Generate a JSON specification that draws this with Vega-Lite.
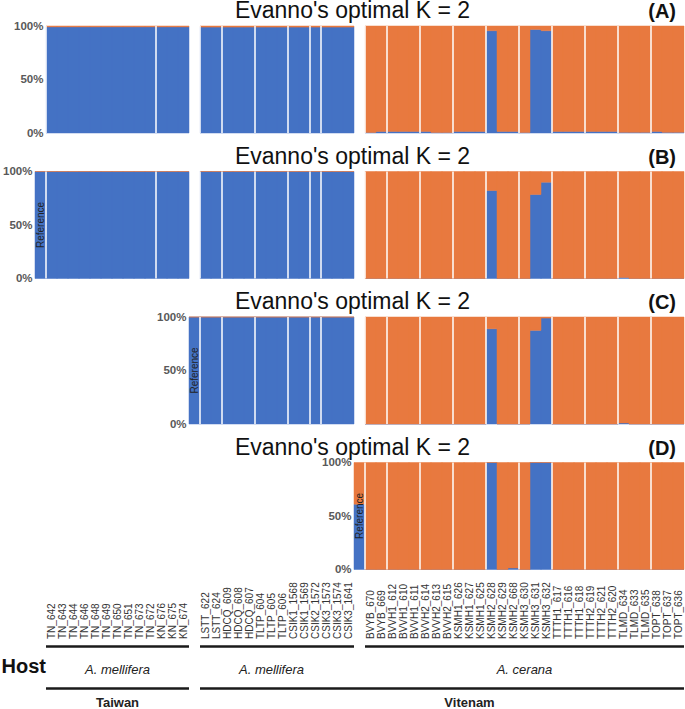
{
  "$schema": "https://vega.github.io/schema/vega-lite/v6.json",
  "padding": {"left": 1, "top": 0, "right": 0, "bottom": 0},
  "config": {"font": "Liberation Sans", "view": {"stroke": null}},
  "spacing": 5.5,
  "resolve": {"scale": {"x": "independent", "y": "independent"}, "axis": {"x": "independent", "y": "independent"}},
  "datasets": {
    "A": [
      {"sample": "TN_642", "pop": "TN", "blue": 0.992}, {"sample": "TN_643", "pop": "TN", "blue": 0.992}, {"sample": "TN_644", "pop": "TN", "blue": 0.992}, {"sample": "TN_646", "pop": "TN", "blue": 0.992}, {"sample": "TN_648", "pop": "TN", "blue": 0.992}, {"sample": "TN_649", "pop": "TN", "blue": 0.992}, {"sample": "TN_650", "pop": "TN", "blue": 0.992}, {"sample": "TN_651", "pop": "TN", "blue": 0.992}, {"sample": "TN_673", "pop": "TN", "blue": 0.992}, {"sample": "TN_672", "pop": "TN", "blue": 0.992},
      {"sample": "KN_676", "pop": "KN", "blue": 0.992}, {"sample": "KN_675", "pop": "KN", "blue": 0.992}, {"sample": "KN_674", "pop": "KN", "blue": 0.992},
      {"sample": "LSTT_622", "pop": "LSTT", "blue": 0.99}, {"sample": "LSTT_624", "pop": "LSTT", "blue": 0.99},
      {"sample": "HDCQ_609", "pop": "HDCQ", "blue": 0.99}, {"sample": "HDCQ_608", "pop": "HDCQ", "blue": 0.99}, {"sample": "HDCQ_607", "pop": "HDCQ", "blue": 0.99},
      {"sample": "TLTP_604", "pop": "TLTP", "blue": 0.99}, {"sample": "TLTP_605", "pop": "TLTP", "blue": 0.99}, {"sample": "TLTP_606", "pop": "TLTP", "blue": 0.99},
      {"sample": "CSIK1_1568", "pop": "CSIK1", "blue": 0.99}, {"sample": "CSIK1_1569", "pop": "CSIK1", "blue": 0.99},
      {"sample": "CSIK2_1572", "pop": "CSIK2", "blue": 0.99},
      {"sample": "CSIK3_1573", "pop": "CSIK3", "blue": 0.99}, {"sample": "CSIK3_1574", "pop": "CSIK3", "blue": 0.99}, {"sample": "CSIK3_1641", "pop": "CSIK3", "blue": 0.99},
      {"sample": "BVYB_670", "pop": "BVYB", "blue": 0.005}, {"sample": "BVYB_669", "pop": "BVYB", "blue": 0.015},
      {"sample": "BVVH1_612", "pop": "BVVH1", "blue": 0.015}, {"sample": "BVVH1_610", "pop": "BVVH1", "blue": 0.015}, {"sample": "BVVH1_611", "pop": "BVVH1", "blue": 0.015},
      {"sample": "BVVH2_614", "pop": "BVVH2", "blue": 0.015}, {"sample": "BVVH2_613", "pop": "BVVH2", "blue": 0.004}, {"sample": "BVVH2_615", "pop": "BVVH2", "blue": 0.004},
      {"sample": "KSMH1_626", "pop": "KSMH1", "blue": 0.015}, {"sample": "KSMH1_627", "pop": "KSMH1", "blue": 0.015}, {"sample": "KSMH1_625", "pop": "KSMH1", "blue": 0.015},
      {"sample": "KSMH2_628", "pop": "KSMH2", "blue": 0.956}, {"sample": "KSMH2_629", "pop": "KSMH2", "blue": 0.015}, {"sample": "KSMH2_668", "pop": "KSMH2", "blue": 0.015},
      {"sample": "KSMH3_630", "pop": "KSMH3", "blue": 0.004}, {"sample": "KSMH3_631", "pop": "KSMH3", "blue": 0.968}, {"sample": "KSMH3_632", "pop": "KSMH3", "blue": 0.956},
      {"sample": "TTTH1_617", "pop": "TTTH1", "blue": 0.015}, {"sample": "TTTH1_616", "pop": "TTTH1", "blue": 0.015}, {"sample": "TTTH1_618", "pop": "TTTH1", "blue": 0.015},
      {"sample": "TTTH2_619", "pop": "TTTH2", "blue": 0.015}, {"sample": "TTTH2_621", "pop": "TTTH2", "blue": 0.015}, {"sample": "TTTH2_620", "pop": "TTTH2", "blue": 0.015},
      {"sample": "TLMD_634", "pop": "TLMD", "blue": 0.006}, {"sample": "TLMD_633", "pop": "TLMD", "blue": 0.006}, {"sample": "TLMD_635", "pop": "TLMD", "blue": 0.006},
      {"sample": "TOPT_638", "pop": "TOPT", "blue": 0.015}, {"sample": "TOPT_637", "pop": "TOPT", "blue": 0.006}, {"sample": "TOPT_636", "pop": "TOPT", "blue": 0.006}
    ],
    "B": [
      {"sample": "Reference (B)", "pop": "Reference", "blue": 1},
      {"sample": "TN_642", "pop": "TN", "blue": 1}, {"sample": "TN_643", "pop": "TN", "blue": 1}, {"sample": "TN_644", "pop": "TN", "blue": 1}, {"sample": "TN_646", "pop": "TN", "blue": 1}, {"sample": "TN_648", "pop": "TN", "blue": 1}, {"sample": "TN_649", "pop": "TN", "blue": 1}, {"sample": "TN_650", "pop": "TN", "blue": 1}, {"sample": "TN_651", "pop": "TN", "blue": 1}, {"sample": "TN_673", "pop": "TN", "blue": 1}, {"sample": "TN_672", "pop": "TN", "blue": 1},
      {"sample": "KN_676", "pop": "KN", "blue": 1}, {"sample": "KN_675", "pop": "KN", "blue": 1}, {"sample": "KN_674", "pop": "KN", "blue": 1},
      {"sample": "LSTT_622", "pop": "LSTT", "blue": 1}, {"sample": "LSTT_624", "pop": "LSTT", "blue": 1},
      {"sample": "HDCQ_609", "pop": "HDCQ", "blue": 1}, {"sample": "HDCQ_608", "pop": "HDCQ", "blue": 1}, {"sample": "HDCQ_607", "pop": "HDCQ", "blue": 1},
      {"sample": "TLTP_604", "pop": "TLTP", "blue": 1}, {"sample": "TLTP_605", "pop": "TLTP", "blue": 1}, {"sample": "TLTP_606", "pop": "TLTP", "blue": 1},
      {"sample": "CSIK1_1568", "pop": "CSIK1", "blue": 1}, {"sample": "CSIK1_1569", "pop": "CSIK1", "blue": 1},
      {"sample": "CSIK2_1572", "pop": "CSIK2", "blue": 1},
      {"sample": "CSIK3_1573", "pop": "CSIK3", "blue": 1}, {"sample": "CSIK3_1574", "pop": "CSIK3", "blue": 1}, {"sample": "CSIK3_1641", "pop": "CSIK3", "blue": 1},
      {"sample": "BVYB_670", "pop": "BVYB", "blue": 0}, {"sample": "BVYB_669", "pop": "BVYB", "blue": 0},
      {"sample": "BVVH1_612", "pop": "BVVH1", "blue": 0}, {"sample": "BVVH1_610", "pop": "BVVH1", "blue": 0}, {"sample": "BVVH1_611", "pop": "BVVH1", "blue": 0},
      {"sample": "BVVH2_614", "pop": "BVVH2", "blue": 0}, {"sample": "BVVH2_613", "pop": "BVVH2", "blue": 0}, {"sample": "BVVH2_615", "pop": "BVVH2", "blue": 0},
      {"sample": "KSMH1_626", "pop": "KSMH1", "blue": 0}, {"sample": "KSMH1_627", "pop": "KSMH1", "blue": 0}, {"sample": "KSMH1_625", "pop": "KSMH1", "blue": 0},
      {"sample": "KSMH2_628", "pop": "KSMH2", "blue": 0.822}, {"sample": "KSMH2_629", "pop": "KSMH2", "blue": 0}, {"sample": "KSMH2_668", "pop": "KSMH2", "blue": 0},
      {"sample": "KSMH3_630", "pop": "KSMH3", "blue": 0}, {"sample": "KSMH3_631", "pop": "KSMH3", "blue": 0.785}, {"sample": "KSMH3_632", "pop": "KSMH3", "blue": 0.9},
      {"sample": "TTTH1_617", "pop": "TTTH1", "blue": 0}, {"sample": "TTTH1_616", "pop": "TTTH1", "blue": 0}, {"sample": "TTTH1_618", "pop": "TTTH1", "blue": 0},
      {"sample": "TTTH2_619", "pop": "TTTH2", "blue": 0}, {"sample": "TTTH2_621", "pop": "TTTH2", "blue": 0}, {"sample": "TTTH2_620", "pop": "TTTH2", "blue": 0},
      {"sample": "TLMD_634", "pop": "TLMD", "blue": 0.01}, {"sample": "TLMD_633", "pop": "TLMD", "blue": 0}, {"sample": "TLMD_635", "pop": "TLMD", "blue": 0},
      {"sample": "TOPT_638", "pop": "TOPT", "blue": 0}, {"sample": "TOPT_637", "pop": "TOPT", "blue": 0}, {"sample": "TOPT_636", "pop": "TOPT", "blue": 0}
    ],
    "C": [
      {"sample": "Reference (C)", "pop": "Reference", "blue": 1},
      {"sample": "LSTT_622", "pop": "LSTT", "blue": 1}, {"sample": "LSTT_624", "pop": "LSTT", "blue": 1},
      {"sample": "HDCQ_609", "pop": "HDCQ", "blue": 1}, {"sample": "HDCQ_608", "pop": "HDCQ", "blue": 1}, {"sample": "HDCQ_607", "pop": "HDCQ", "blue": 1},
      {"sample": "TLTP_604", "pop": "TLTP", "blue": 1}, {"sample": "TLTP_605", "pop": "TLTP", "blue": 1}, {"sample": "TLTP_606", "pop": "TLTP", "blue": 1},
      {"sample": "CSIK1_1568", "pop": "CSIK1", "blue": 1}, {"sample": "CSIK1_1569", "pop": "CSIK1", "blue": 1},
      {"sample": "CSIK2_1572", "pop": "CSIK2", "blue": 1},
      {"sample": "CSIK3_1573", "pop": "CSIK3", "blue": 1}, {"sample": "CSIK3_1574", "pop": "CSIK3", "blue": 1}, {"sample": "CSIK3_1641", "pop": "CSIK3", "blue": 1},
      {"sample": "BVYB_670", "pop": "BVYB", "blue": 0}, {"sample": "BVYB_669", "pop": "BVYB", "blue": 0},
      {"sample": "BVVH1_612", "pop": "BVVH1", "blue": 0}, {"sample": "BVVH1_610", "pop": "BVVH1", "blue": 0}, {"sample": "BVVH1_611", "pop": "BVVH1", "blue": 0},
      {"sample": "BVVH2_614", "pop": "BVVH2", "blue": 0}, {"sample": "BVVH2_613", "pop": "BVVH2", "blue": 0}, {"sample": "BVVH2_615", "pop": "BVVH2", "blue": 0},
      {"sample": "KSMH1_626", "pop": "KSMH1", "blue": 0}, {"sample": "KSMH1_627", "pop": "KSMH1", "blue": 0}, {"sample": "KSMH1_625", "pop": "KSMH1", "blue": 0},
      {"sample": "KSMH2_628", "pop": "KSMH2", "blue": 0.89}, {"sample": "KSMH2_629", "pop": "KSMH2", "blue": 0}, {"sample": "KSMH2_668", "pop": "KSMH2", "blue": 0},
      {"sample": "KSMH3_630", "pop": "KSMH3", "blue": 0}, {"sample": "KSMH3_631", "pop": "KSMH3", "blue": 0.875}, {"sample": "KSMH3_632", "pop": "KSMH3", "blue": 0.99},
      {"sample": "TTTH1_617", "pop": "TTTH1", "blue": 0}, {"sample": "TTTH1_616", "pop": "TTTH1", "blue": 0}, {"sample": "TTTH1_618", "pop": "TTTH1", "blue": 0},
      {"sample": "TTTH2_619", "pop": "TTTH2", "blue": 0}, {"sample": "TTTH2_621", "pop": "TTTH2", "blue": 0}, {"sample": "TTTH2_620", "pop": "TTTH2", "blue": 0},
      {"sample": "TLMD_634", "pop": "TLMD", "blue": 0.01}, {"sample": "TLMD_633", "pop": "TLMD", "blue": 0}, {"sample": "TLMD_635", "pop": "TLMD", "blue": 0},
      {"sample": "TOPT_638", "pop": "TOPT", "blue": 0}, {"sample": "TOPT_637", "pop": "TOPT", "blue": 0}, {"sample": "TOPT_636", "pop": "TOPT", "blue": 0}
    ],
    "D": [
      {"sample": "Reference (D)", "pop": "Reference", "blue": 0.61},
      {"sample": "BVYB_670", "pop": "BVYB", "blue": 0}, {"sample": "BVYB_669", "pop": "BVYB", "blue": 0},
      {"sample": "BVVH1_612", "pop": "BVVH1", "blue": 0}, {"sample": "BVVH1_610", "pop": "BVVH1", "blue": 0}, {"sample": "BVVH1_611", "pop": "BVVH1", "blue": 0},
      {"sample": "BVVH2_614", "pop": "BVVH2", "blue": 0}, {"sample": "BVVH2_613", "pop": "BVVH2", "blue": 0}, {"sample": "BVVH2_615", "pop": "BVVH2", "blue": 0},
      {"sample": "KSMH1_626", "pop": "KSMH1", "blue": 0}, {"sample": "KSMH1_627", "pop": "KSMH1", "blue": 0}, {"sample": "KSMH1_625", "pop": "KSMH1", "blue": 0},
      {"sample": "KSMH2_628", "pop": "KSMH2", "blue": 1}, {"sample": "KSMH2_629", "pop": "KSMH2", "blue": 0}, {"sample": "KSMH2_668", "pop": "KSMH2", "blue": 0.015},
      {"sample": "KSMH3_630", "pop": "KSMH3", "blue": 0}, {"sample": "KSMH3_631", "pop": "KSMH3", "blue": 1}, {"sample": "KSMH3_632", "pop": "KSMH3", "blue": 1},
      {"sample": "TTTH1_617", "pop": "TTTH1", "blue": 0}, {"sample": "TTTH1_616", "pop": "TTTH1", "blue": 0}, {"sample": "TTTH1_618", "pop": "TTTH1", "blue": 0},
      {"sample": "TTTH2_619", "pop": "TTTH2", "blue": 0}, {"sample": "TTTH2_621", "pop": "TTTH2", "blue": 0}, {"sample": "TTTH2_620", "pop": "TTTH2", "blue": 0},
      {"sample": "TLMD_634", "pop": "TLMD", "blue": 0}, {"sample": "TLMD_633", "pop": "TLMD", "blue": 0}, {"sample": "TLMD_635", "pop": "TLMD", "blue": 0},
      {"sample": "TOPT_638", "pop": "TOPT", "blue": 0}, {"sample": "TOPT_637", "pop": "TOPT", "blue": 0}, {"sample": "TOPT_636", "pop": "TOPT", "blue": 0}
    ],
    "lines": [
      {"tier": 1, "start": "TN_642", "end": "KN_674"},
      {"tier": 1, "start": "LSTT_622", "end": "CSIK3_1641"},
      {"tier": 1, "start": "BVYB_670", "end": "TOPT_636"},
      {"tier": 2, "start": "TN_642", "end": "KN_674"},
      {"tier": 2, "start": "LSTT_622", "end": "TOPT_636"}
    ],
    "hosts": [
      {"tier": 1, "at": "TN_650", "text": "A. mellifera"},
      {"tier": 1, "at": "TLTP_605", "text": "A. mellifera"},
      {"tier": 1, "at": "KSMH3_630", "text": "A. cerana"}
    ],
    "countries": [
      {"tier": 2, "at": "TN_650", "text": "Taiwan"},
      {"tier": 2, "at": "KSMH1_627", "text": "Vitenam"}
    ]
  },
  "vconcat": [
    {
      "spacing": 6.5,
      "resolve": {"scale": {"x": "independent", "y": "independent"}, "axis": {"x": "independent", "y": "independent"}},
      "vconcat": [
        {
          "width": 649, "height": 107,
          "title": {"text": "Evanno's optimal K = 2", "fontSize": 23, "fontWeight": "normal", "color": "#111", "anchor": "middle", "dx": -7, "dy": 24, "offset": 3},
          "data": {"name": "A"},
          "layer": [
            {"mark": {"type": "bar", "color": "#4472C4", "stroke": "#4472C4", "strokeWidth": 0.5},
             "encoding": {"x": {"field": "sample", "type": "nominal", "axis": null, "scale": {"type": "band", "paddingInner": 0, "paddingOuter": 0, "domain": ["Reference (B)","TN_642","TN_643","TN_644","TN_646","TN_648","TN_649","TN_650","TN_651","TN_673","TN_672","KN_676","KN_675","KN_674","Reference (C)","LSTT_622","LSTT_624","HDCQ_609","HDCQ_608","HDCQ_607","TLTP_604","TLTP_605","TLTP_606","CSIK1_1568","CSIK1_1569","CSIK2_1572","CSIK3_1573","CSIK3_1574","CSIK3_1641","Reference (D)","BVYB_670","BVYB_669","BVVH1_612","BVVH1_610","BVVH1_611","BVVH2_614","BVVH2_613","BVVH2_615","KSMH1_626","KSMH1_627","KSMH1_625","KSMH2_628","KSMH2_629","KSMH2_668","KSMH3_630","KSMH3_631","KSMH3_632","TTTH1_617","TTTH1_616","TTTH1_618","TTTH2_619","TTTH2_621","TTTH2_620","TLMD_634","TLMD_633","TLMD_635","TOPT_638","TOPT_637","TOPT_636"]}},
               "y": {"field": "blue", "type": "quantitative", "scale": {"domain": [0, 1], "nice": false}, "axis": {"values": [0, 0.5, 1], "format": ".0%", "labelFontSize": 11.5, "labelFontWeight": "bold", "labelColor": "#595959", "ticks": false, "domain": false, "grid": false, "title": null, "labelPadding": 3, "offset": -11}},
               "y2": {"datum": 0}}},
            {"mark": {"type": "bar", "color": "#E8793F", "stroke": "#E8793F", "strokeWidth": 0.5},
             "encoding": {"x": {"field": "sample", "type": "nominal"}, "y": {"field": "blue", "type": "quantitative"}, "y2": {"datum": 1}}},
            {"transform": [{"filter": "datum.pop !== 'Reference'"}, {"window": [{"op": "row_number", "as": "k"}], "groupby": ["pop"]}, {"filter": "datum.k === 1"}],
             "mark": {"type": "rule", "color": "white", "strokeWidth": 1.5},
             "encoding": {"x": {"field": "sample", "type": "nominal", "bandPosition": 0}, "y": {"datum": 0}, "y2": {"datum": 1}}},
            {"data": {"values": [{"sample": "TOPT_636", "label": "(A)"}]},
             "mark": {"type": "text", "align": "right", "baseline": "alphabetic", "fontSize": 20, "fontWeight": "bold", "color": "#111", "dx": -8, "dy": -8},
             "encoding": {"x": {"field": "sample", "type": "nominal", "bandPosition": 1}, "y": {"datum": 1}, "text": {"field": "label"}}}
          ]
        },
        {
          "width": 649, "height": 107,
          "title": {"text": "Evanno's optimal K = 2", "fontSize": 23, "fontWeight": "normal", "color": "#111", "anchor": "middle", "dx": -7, "dy": 24, "offset": 3},
          "data": {"name": "B"},
          "layer": [
            {"mark": {"type": "bar", "color": "#4472C4", "stroke": "#4472C4", "strokeWidth": 0.5},
             "encoding": {"x": {"field": "sample", "type": "nominal", "axis": null, "scale": {"type": "band", "paddingInner": 0, "paddingOuter": 0, "domain": ["Reference (B)","TN_642","TN_643","TN_644","TN_646","TN_648","TN_649","TN_650","TN_651","TN_673","TN_672","KN_676","KN_675","KN_674","Reference (C)","LSTT_622","LSTT_624","HDCQ_609","HDCQ_608","HDCQ_607","TLTP_604","TLTP_605","TLTP_606","CSIK1_1568","CSIK1_1569","CSIK2_1572","CSIK3_1573","CSIK3_1574","CSIK3_1641","Reference (D)","BVYB_670","BVYB_669","BVVH1_612","BVVH1_610","BVVH1_611","BVVH2_614","BVVH2_613","BVVH2_615","KSMH1_626","KSMH1_627","KSMH1_625","KSMH2_628","KSMH2_629","KSMH2_668","KSMH3_630","KSMH3_631","KSMH3_632","TTTH1_617","TTTH1_616","TTTH1_618","TTTH2_619","TTTH2_621","TTTH2_620","TLMD_634","TLMD_633","TLMD_635","TOPT_638","TOPT_637","TOPT_636"]}},
               "y": {"field": "blue", "type": "quantitative", "scale": {"domain": [0, 1], "nice": false}, "axis": {"values": [0, 0.5, 1], "format": ".0%", "labelFontSize": 11.5, "labelFontWeight": "bold", "labelColor": "#595959", "ticks": false, "domain": false, "grid": false, "title": null, "labelPadding": 3, "offset": 0}},
               "y2": {"datum": 0}}},
            {"mark": {"type": "bar", "color": "#E8793F", "stroke": "#E8793F", "strokeWidth": 0.5},
             "encoding": {"x": {"field": "sample", "type": "nominal"}, "y": {"field": "blue", "type": "quantitative"}, "y2": {"datum": 1}}},
            {"transform": [{"filter": "datum.pop !== 'Reference'"}, {"window": [{"op": "row_number", "as": "k"}], "groupby": ["pop"]}, {"filter": "datum.k === 1"}],
             "mark": {"type": "rule", "color": "white", "strokeWidth": 1.5},
             "encoding": {"x": {"field": "sample", "type": "nominal", "bandPosition": 0}, "y": {"datum": 0}, "y2": {"datum": 1}}},
            {"transform": [{"filter": "datum.pop === 'Reference'"}],
             "mark": {"type": "text", "angle": 270, "fontSize": 10, "color": "#222", "align": "center", "baseline": "middle"},
             "encoding": {"x": {"field": "sample", "type": "nominal"}, "y": {"datum": 0.5}, "text": {"field": "pop"}}},
            {"data": {"values": [{"sample": "TOPT_636", "label": "(B)"}]},
             "mark": {"type": "text", "align": "right", "baseline": "alphabetic", "fontSize": 20, "fontWeight": "bold", "color": "#111", "dx": -8, "dy": -8},
             "encoding": {"x": {"field": "sample", "type": "nominal", "bandPosition": 1}, "y": {"datum": 1}, "text": {"field": "label"}}}
          ]
        },
        {
          "width": 649, "height": 107,
          "title": {"text": "Evanno's optimal K = 2", "fontSize": 23, "fontWeight": "normal", "color": "#111", "anchor": "middle", "dx": -7, "dy": 24, "offset": 3},
          "data": {"name": "C"},
          "layer": [
            {"mark": {"type": "bar", "color": "#4472C4", "stroke": "#4472C4", "strokeWidth": 0.5},
             "encoding": {"x": {"field": "sample", "type": "nominal", "axis": null, "scale": {"type": "band", "paddingInner": 0, "paddingOuter": 0, "domain": ["Reference (B)","TN_642","TN_643","TN_644","TN_646","TN_648","TN_649","TN_650","TN_651","TN_673","TN_672","KN_676","KN_675","KN_674","Reference (C)","LSTT_622","LSTT_624","HDCQ_609","HDCQ_608","HDCQ_607","TLTP_604","TLTP_605","TLTP_606","CSIK1_1568","CSIK1_1569","CSIK2_1572","CSIK3_1573","CSIK3_1574","CSIK3_1641","Reference (D)","BVYB_670","BVYB_669","BVVH1_612","BVVH1_610","BVVH1_611","BVVH2_614","BVVH2_613","BVVH2_615","KSMH1_626","KSMH1_627","KSMH1_625","KSMH2_628","KSMH2_629","KSMH2_668","KSMH3_630","KSMH3_631","KSMH3_632","TTTH1_617","TTTH1_616","TTTH1_618","TTTH2_619","TTTH2_621","TTTH2_620","TLMD_634","TLMD_633","TLMD_635","TOPT_638","TOPT_637","TOPT_636"]}},
               "y": {"field": "blue", "type": "quantitative", "scale": {"domain": [0, 1], "nice": false}, "axis": {"values": [0, 0.5, 1], "format": ".0%", "labelFontSize": 11.5, "labelFontWeight": "bold", "labelColor": "#595959", "ticks": false, "domain": false, "grid": false, "title": null, "labelPadding": 3, "offset": -154}},
               "y2": {"datum": 0}}},
            {"mark": {"type": "bar", "color": "#E8793F", "stroke": "#E8793F", "strokeWidth": 0.5},
             "encoding": {"x": {"field": "sample", "type": "nominal"}, "y": {"field": "blue", "type": "quantitative"}, "y2": {"datum": 1}}},
            {"transform": [{"filter": "datum.pop !== 'Reference'"}, {"window": [{"op": "row_number", "as": "k"}], "groupby": ["pop"]}, {"filter": "datum.k === 1"}],
             "mark": {"type": "rule", "color": "white", "strokeWidth": 1.5},
             "encoding": {"x": {"field": "sample", "type": "nominal", "bandPosition": 0}, "y": {"datum": 0}, "y2": {"datum": 1}}},
            {"transform": [{"filter": "datum.pop === 'Reference'"}],
             "mark": {"type": "text", "angle": 270, "fontSize": 10, "color": "#222", "align": "center", "baseline": "middle"},
             "encoding": {"x": {"field": "sample", "type": "nominal"}, "y": {"datum": 0.5}, "text": {"field": "pop"}}},
            {"data": {"values": [{"sample": "TOPT_636", "label": "(C)"}]},
             "mark": {"type": "text", "align": "right", "baseline": "alphabetic", "fontSize": 20, "fontWeight": "bold", "color": "#111", "dx": -8, "dy": -8},
             "encoding": {"x": {"field": "sample", "type": "nominal", "bandPosition": 1}, "y": {"datum": 1}, "text": {"field": "label"}}}
          ]
        },
        {
          "width": 649, "height": 107,
          "title": {"text": "Evanno's optimal K = 2", "fontSize": 23, "fontWeight": "normal", "color": "#111", "anchor": "middle", "dx": -7, "dy": 24, "offset": 3},
          "data": {"name": "D"},
          "layer": [
            {"mark": {"type": "bar", "color": "#4472C4", "stroke": "#4472C4", "strokeWidth": 0.5},
             "encoding": {"x": {"field": "sample", "type": "nominal", "scale": {"type": "band", "paddingInner": 0, "paddingOuter": 0, "domain": ["Reference (B)","TN_642","TN_643","TN_644","TN_646","TN_648","TN_649","TN_650","TN_651","TN_673","TN_672","KN_676","KN_675","KN_674","Reference (C)","LSTT_622","LSTT_624","HDCQ_609","HDCQ_608","HDCQ_607","TLTP_604","TLTP_605","TLTP_606","CSIK1_1568","CSIK1_1569","CSIK2_1572","CSIK3_1573","CSIK3_1574","CSIK3_1641","Reference (D)","BVYB_670","BVYB_669","BVVH1_612","BVVH1_610","BVVH1_611","BVVH2_614","BVVH2_613","BVVH2_615","KSMH1_626","KSMH1_627","KSMH1_625","KSMH2_628","KSMH2_629","KSMH2_668","KSMH3_630","KSMH3_631","KSMH3_632","TTTH1_617","TTTH1_616","TTTH1_618","TTTH2_619","TTTH2_621","TTTH2_620","TLMD_634","TLMD_633","TLMD_635","TOPT_638","TOPT_637","TOPT_636"]},
                 "axis": {"title": null, "ticks": false, "domain": false, "labelAngle": 270, "labelAlign": "left", "labelBaseline": "middle", "labelPadding": 69, "labelFontSize": 10, "labelColor": "#333", "labelOverlap": false, "labelBound": false, "labelExpr": "indexof(datum.value, 'Reference') === 0 ? '' : datum.value"}},
               "y": {"field": "blue", "type": "quantitative", "scale": {"domain": [0, 1], "nice": false}, "axis": {"values": [0, 0.5, 1], "format": ".0%", "labelFontSize": 11.5, "labelFontWeight": "bold", "labelColor": "#595959", "ticks": false, "domain": false, "grid": false, "title": null, "labelPadding": 3, "offset": -319}},
               "y2": {"datum": 0}}},
            {"mark": {"type": "bar", "color": "#E8793F", "stroke": "#E8793F", "strokeWidth": 0.5},
             "encoding": {"x": {"field": "sample", "type": "nominal"}, "y": {"field": "blue", "type": "quantitative"}, "y2": {"datum": 1}}},
            {"transform": [{"filter": "datum.pop !== 'Reference'"}, {"window": [{"op": "row_number", "as": "k"}], "groupby": ["pop"]}, {"filter": "datum.k === 1"}],
             "mark": {"type": "rule", "color": "white", "strokeWidth": 1.5},
             "encoding": {"x": {"field": "sample", "type": "nominal", "bandPosition": 0}, "y": {"datum": 0}, "y2": {"datum": 1}}},
            {"transform": [{"filter": "datum.pop === 'Reference'"}],
             "mark": {"type": "text", "angle": 270, "fontSize": 10, "color": "#222", "align": "center", "baseline": "middle"},
             "encoding": {"x": {"field": "sample", "type": "nominal"}, "y": {"datum": 0.5}, "text": {"field": "pop"}}},
            {"data": {"values": [{"sample": "TOPT_636", "label": "(D)"}]},
             "mark": {"type": "text", "align": "right", "baseline": "alphabetic", "fontSize": 20, "fontWeight": "bold", "color": "#111", "dx": -8, "dy": -8},
             "encoding": {"x": {"field": "sample", "type": "nominal", "bandPosition": 1}, "y": {"datum": 1}, "text": {"field": "label"}}}
          ]
        }
      ]
    },
    {
      "width": 649, "height": 63,
      "layer": [
        {"data": {"name": "lines"},
         "mark": {"type": "rule", "strokeWidth": 2.5, "color": "#1a1a1a"},
         "encoding": {
           "x": {"field": "start", "type": "nominal", "bandPosition": 0, "axis": null, "scale": {"type": "band", "paddingInner": 0, "paddingOuter": 0, "domain": ["Reference (B)","TN_642","TN_643","TN_644","TN_646","TN_648","TN_649","TN_650","TN_651","TN_673","TN_672","KN_676","KN_675","KN_674","Reference (C)","LSTT_622","LSTT_624","HDCQ_609","HDCQ_608","HDCQ_607","TLTP_604","TLTP_605","TLTP_606","CSIK1_1568","CSIK1_1569","CSIK2_1572","CSIK3_1573","CSIK3_1574","CSIK3_1641","Reference (D)","BVYB_670","BVYB_669","BVVH1_612","BVVH1_610","BVVH1_611","BVVH2_614","BVVH2_613","BVVH2_615","KSMH1_626","KSMH1_627","KSMH1_625","KSMH2_628","KSMH2_629","KSMH2_668","KSMH3_630","KSMH3_631","KSMH3_632","TTTH1_617","TTTH1_616","TTTH1_618","TTTH2_619","TTTH2_621","TTTH2_620","TLMD_634","TLMD_633","TLMD_635","TOPT_638","TOPT_637","TOPT_636"]}},
           "x2": {"field": "end", "bandPosition": 1},
           "y": {"field": "tier", "type": "quantitative", "axis": null, "scale": {"domain": [1, 2.5], "reverse": true, "nice": false, "zero": false}}}},
        {"data": {"name": "hosts"},
         "mark": {"type": "text", "fontStyle": "italic", "fontSize": 13, "color": "#222", "dy": 23, "align": "center", "baseline": "middle"},
         "encoding": {
           "x": {"field": "at", "type": "nominal", "bandPosition": 0.5, "axis": null, "scale": {"type": "band", "paddingInner": 0, "paddingOuter": 0, "domain": ["Reference (B)","TN_642","TN_643","TN_644","TN_646","TN_648","TN_649","TN_650","TN_651","TN_673","TN_672","KN_676","KN_675","KN_674","Reference (C)","LSTT_622","LSTT_624","HDCQ_609","HDCQ_608","HDCQ_607","TLTP_604","TLTP_605","TLTP_606","CSIK1_1568","CSIK1_1569","CSIK2_1572","CSIK3_1573","CSIK3_1574","CSIK3_1641","Reference (D)","BVYB_670","BVYB_669","BVVH1_612","BVVH1_610","BVVH1_611","BVVH2_614","BVVH2_613","BVVH2_615","KSMH1_626","KSMH1_627","KSMH1_625","KSMH2_628","KSMH2_629","KSMH2_668","KSMH3_630","KSMH3_631","KSMH3_632","TTTH1_617","TTTH1_616","TTTH1_618","TTTH2_619","TTTH2_621","TTTH2_620","TLMD_634","TLMD_633","TLMD_635","TOPT_638","TOPT_637","TOPT_636"]}},
           "y": {"field": "tier", "type": "quantitative"},
           "text": {"field": "text"}}},
        {"data": {"name": "countries"},
         "mark": {"type": "text", "fontWeight": "bold", "fontSize": 13, "color": "#222", "dy": 14, "align": "center", "baseline": "middle"},
         "encoding": {
           "x": {"field": "at", "type": "nominal", "bandPosition": 0.5, "axis": null, "scale": {"type": "band", "paddingInner": 0, "paddingOuter": 0, "domain": ["Reference (B)","TN_642","TN_643","TN_644","TN_646","TN_648","TN_649","TN_650","TN_651","TN_673","TN_672","KN_676","KN_675","KN_674","Reference (C)","LSTT_622","LSTT_624","HDCQ_609","HDCQ_608","HDCQ_607","TLTP_604","TLTP_605","TLTP_606","CSIK1_1568","CSIK1_1569","CSIK2_1572","CSIK3_1573","CSIK3_1574","CSIK3_1641","Reference (D)","BVYB_670","BVYB_669","BVVH1_612","BVVH1_610","BVVH1_611","BVVH2_614","BVVH2_613","BVVH2_615","KSMH1_626","KSMH1_627","KSMH1_625","KSMH2_628","KSMH2_629","KSMH2_668","KSMH3_630","KSMH3_631","KSMH3_632","TTTH1_617","TTTH1_616","TTTH1_618","TTTH2_619","TTTH2_621","TTTH2_620","TLMD_634","TLMD_633","TLMD_635","TOPT_638","TOPT_637","TOPT_636"]}},
           "y": {"field": "tier", "type": "quantitative"},
           "text": {"field": "text"}}},
        {"data": {"values": [{"tier": 1, "at": "TN_642", "text": "Host"}]},
         "mark": {"type": "text", "fontWeight": "bold", "fontSize": 20, "color": "#111", "dy": 20, "dx": 0, "align": "right", "baseline": "middle"},
         "encoding": {
           "x": {"field": "at", "type": "nominal", "bandPosition": 0, "axis": null, "scale": {"type": "band", "paddingInner": 0, "paddingOuter": 0, "domain": ["Reference (B)","TN_642","TN_643","TN_644","TN_646","TN_648","TN_649","TN_650","TN_651","TN_673","TN_672","KN_676","KN_675","KN_674","Reference (C)","LSTT_622","LSTT_624","HDCQ_609","HDCQ_608","HDCQ_607","TLTP_604","TLTP_605","TLTP_606","CSIK1_1568","CSIK1_1569","CSIK2_1572","CSIK3_1573","CSIK3_1574","CSIK3_1641","Reference (D)","BVYB_670","BVYB_669","BVVH1_612","BVVH1_610","BVVH1_611","BVVH2_614","BVVH2_613","BVVH2_615","KSMH1_626","KSMH1_627","KSMH1_625","KSMH2_628","KSMH2_629","KSMH2_668","KSMH3_630","KSMH3_631","KSMH3_632","TTTH1_617","TTTH1_616","TTTH1_618","TTTH2_619","TTTH2_621","TTTH2_620","TLMD_634","TLMD_633","TLMD_635","TOPT_638","TOPT_637","TOPT_636"]}},
           "y": {"field": "tier", "type": "quantitative"},
           "text": {"field": "text"}}}
      ]
    }
  ]
}
